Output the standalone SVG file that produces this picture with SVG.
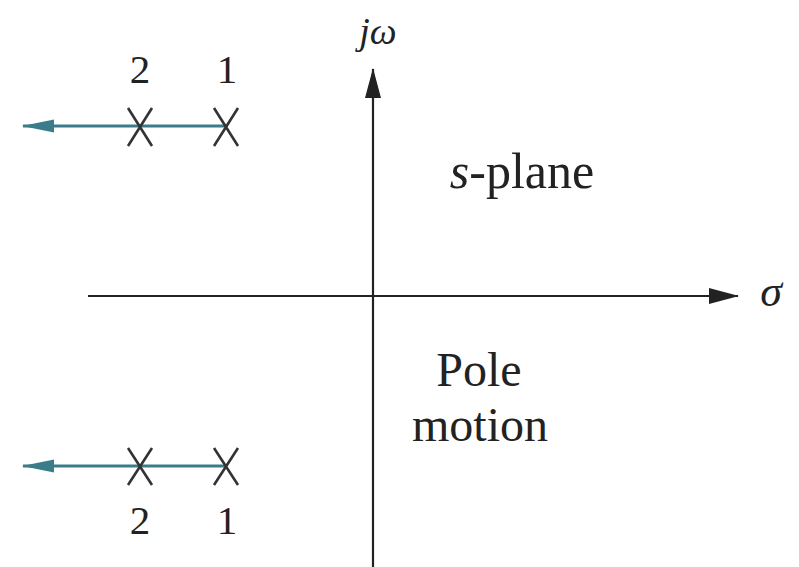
<svg xmlns="http://www.w3.org/2000/svg" width="799" height="567" viewBox="0 0 799 567">
<style>
text{font-family:'Liberation Serif','DejaVu Serif',serif;fill:#222;}
.ax{stroke:#222;stroke-width:2.2;fill:none;}
.mv{stroke:#3b7c8a;stroke-width:3;fill:none;}
.x{stroke:#333;stroke-width:2.6;fill:none;}
</style>
<defs>
<marker id="am" markerWidth="32" markerHeight="16" refX="31" refY="8" orient="auto" markerUnits="userSpaceOnUse" viewBox="0 0 32 16">
<path d="M0,1.5 L32,8 L0,14.5 Z" fill="#3b7c8a"/>
</marker>
<marker id="ax2" markerWidth="30" markerHeight="16" refX="29" refY="8" orient="auto" markerUnits="userSpaceOnUse" viewBox="0 0 30 16">
<path d="M0,0 L30,8 L0,16 Z" fill="#222"/>
</marker>
</defs>
<rect width="799" height="567" fill="#fff"/>
<g id="axes">
<line class="ax" x1="373" y1="567" x2="373" y2="69" marker-end="url(#ax2)"/>
<line class="ax" x1="88" y1="296" x2="738" y2="296" marker-end="url(#ax2)"/>
</g>
<g id="connectors">
<line class="mv" x1="226" y1="126" x2="23" y2="126" marker-end="url(#am)"/>
<line class="mv" x1="226" y1="466" x2="23" y2="466" marker-end="url(#am)"/>
</g>
<g id="pole1-top"><path class="x" d="M214,108 L238,146 M238,108 L214,146"/></g>
<g id="pole2-top"><path class="x" d="M128,108 L152,146 M152,108 L128,146"/></g>
<g id="pole1-bot"><path class="x" d="M214,448 L238,485 M238,448 L214,485"/></g>
<g id="pole2-bot"><path class="x" d="M128,448 L152,485 M152,448 L128,485"/></g>
<g id="labels">
<text x="140" y="83" font-size="41" text-anchor="middle">2</text>
<text x="227" y="83" font-size="41" text-anchor="middle">1</text>
<text x="140" y="534" font-size="41" text-anchor="middle">2</text>
<text x="227" y="534" font-size="41" text-anchor="middle">1</text>
<text x="378" y="44" font-size="38" font-style="italic" text-anchor="middle">jω</text>
<text x="771" y="306" font-size="44" font-style="italic" text-anchor="middle">σ</text>
<text x="522" y="188" font-size="50" text-anchor="middle"><tspan font-style="italic">s</tspan>-plane</text>
<text x="479" y="386" font-size="48" text-anchor="middle">Pole</text>
<text x="480" y="441" font-size="48" text-anchor="middle">motion</text>
</g>
</svg>
